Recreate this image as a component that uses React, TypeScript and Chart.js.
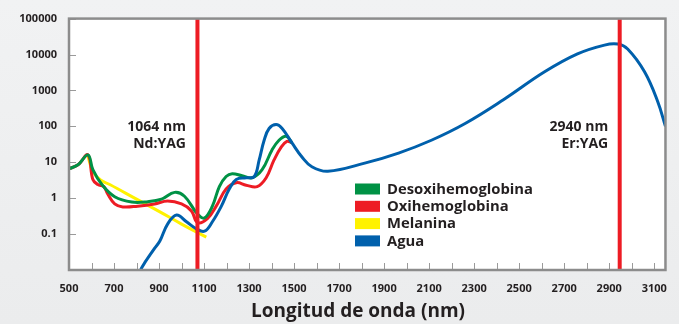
import { useEffect, useRef } from "react";
import { Chart, registerables } from "chart.js";

Chart.register(...registerables);

// ---- Data ----
const xTickValues = [500, 700, 900, 1100, 1300, 1500, 1700, 1900, 2100, 2300, 2500, 2700, 2900, 3100];
const xMinorTicks = [600, 700, 800, 900, 1000, 1100, 1200, 1300, 1400, 1500, 1600, 1700, 1800, 1900, 2000, 2100, 2200, 2300, 2400, 2500, 2600, 2700, 2800, 2900, 3000, 3100];
const yTickValues = [0.1, 1, 10, 100, 1000, 10000, 100000];
const yTickLabels = ["0.1", "1", "10", "100", "1000", "10000", "100000"];

const laserWavelengths = [1064, 2940];
const laserLabels = [["1064 nm", "Nd:YAG"], ["2940 nm", "Er:YAG"]];

const seriesNames = ["Desoxihemoglobina", "Oxihemoglobina", "Melanina", "Agua"];
const seriesColors = ["#009245", "#ed1c24", "#fff200", "#0060ac"];

const deoxyNm = [500, 540, 584, 606, 646, 703, 779, 850, 911, 969, 1013, 1071, 1101, 1137, 1168, 1198, 1225, 1269, 1313, 1358, 1402, 1433, 1465, 1490];
const deoxyVal = [6.6, 8.5, 16, 6.2, 2.4, 1.1, 0.78, 0.8, 0.94, 1.45, 1.13, 0.36, 0.28, 0.6, 2.1, 4, 4.8, 4.2, 3.7, 6.2, 22, 41, 53, 35];

const oxyNm = [500, 540, 584, 606, 628, 655, 672, 703, 739, 805, 880, 938, 1000, 1044, 1071, 1115, 1154, 1198, 1243, 1287, 1336, 1376, 1411, 1442, 1468, 1490];
const oxyVal = [6.6, 8.5, 16, 3.3, 2.4, 2.1, 1.3, 0.69, 0.57, 0.6, 0.69, 0.83, 0.69, 0.44, 0.21, 0.27, 0.6, 1.8, 2.7, 2.3, 2.1, 3.7, 11.6, 26, 38, 35];

const melaninNm = [584, 606, 640, 681, 800, 900, 1000, 1110];
const melaninVal = [15, 5.5, 3.2, 2.4, 0.94, 0.43, 0.19, 0.082];

const waterNm = [800, 823, 880, 903, 938, 978, 1022, 1066, 1102, 1137, 1177, 1212, 1243, 1287, 1323, 1345, 1367, 1389, 1420, 1447, 1490, 1535, 1579, 1650, 1818, 1964, 2110, 2260, 2430, 2613, 2759, 2879, 2938, 2982, 3057, 3115, 3150];
const waterVal = [0.005, 0.0115, 0.04, 0.063, 0.19, 0.34, 0.22, 0.14, 0.12, 0.22, 0.6, 1.8, 3.3, 3.7, 4, 11.6, 41, 87, 112, 87, 35, 14, 7.5, 5.6, 9.6, 18, 41, 120, 550, 3300, 10400, 18300, 19500, 14200, 3300, 500, 100];

const xAxisTitle = "Longitud de onda (nm)";

const toPoints = (xs: number[], ys: number[]) => xs.map((x, i) => ({ x, y: ys[i] }));

const TEXT = "#231f20";
const FONT = "'Open Sans', 'DejaVu Sans', sans-serif";

const decorPlugin = {
  id: "decor",
  beforeDraw(chart: any) {
    const { ctx, chartArea: a, width, height } = chart;
    ctx.save();
    const g = ctx.createLinearGradient(0, 0, 0, height);
    g.addColorStop(0, "#f1f2f3");
    g.addColorStop(1, "#ebeced");
    ctx.fillStyle = g;
    ctx.fillRect(0, 0, width, height);
    ctx.fillStyle = "#ffffff";
    ctx.fillRect(a.left, a.top, a.right - a.left, a.bottom - a.top);
    ctx.restore();
  },
  afterDatasetsDraw(chart: any) {
    const { ctx, chartArea: a, scales } = chart;
    const xs = scales.x;
    const ys = scales.y;
    ctx.save();
    // inner tick marks
    ctx.strokeStyle = "#9a9a9a";
    ctx.lineWidth = 1;
    ctx.beginPath();
    yTickValues.forEach((v) => {
      const y = Math.round(ys.getPixelForValue(v)) + 0.5;
      ctx.moveTo(a.left, y);
      ctx.lineTo(a.left + 7, y);
    });
    xMinorTicks.forEach((v) => {
      const x = Math.round(xs.getPixelForValue(v)) + 0.5;
      ctx.moveTo(x, a.bottom);
      ctx.lineTo(x, a.bottom - 7);
    });
    ctx.stroke();
    // laser lines
    ctx.strokeStyle = "#ed1c24";
    ctx.lineWidth = 4;
    laserWavelengths.forEach((w) => {
      const x = xs.getPixelForValue(w) + 1.5;
      ctx.beginPath();
      ctx.moveTo(x, a.top);
      ctx.lineTo(x, a.bottom);
      ctx.stroke();
    });
    // plot border
    ctx.strokeStyle = "#8c8c8c";
    ctx.lineWidth = 2.5;
    ctx.strokeRect(a.left, a.top, a.right - a.left, a.bottom - a.top);
    // laser annotations
    ctx.fillStyle = TEXT;
    ctx.font = `bold 14px ${FONT}`;
    ctx.textAlign = "right";
    ctx.textBaseline = "middle";
    laserWavelengths.forEach((w, i) => {
      const x = xs.getPixelForValue(w) - 10;
      ctx.fillText(laserLabels[i][0], x, a.top + 108);
      ctx.fillText(laserLabels[i][1], x, a.top + 125);
    });
    // legend
    ctx.textAlign = "left";
    ctx.font = `bold 14.8px ${FONT}`;
    seriesNames.forEach((name, i) => {
      const cy = 189 + i * 17.3;
      ctx.fillStyle = seriesColors[i];
      ctx.fillRect(355, cy - 5.5, 25, 11);
      ctx.fillStyle = TEXT;
      ctx.fillText(name, 387, cy + 0.5);
    });
    // axis title
    ctx.textAlign = "center";
    ctx.font = `bold 19px ${FONT}`;
    ctx.fillText(xAxisTitle, 358, 312);
    ctx.restore();
  },
};

export default function App() {
  const canvasRef = useRef<HTMLCanvasElement | null>(null);

  useEffect(() => {
    document.body.style.margin = "0";
    const canvas = canvasRef.current;
    if (!canvas) return;
    const mk = (i: number, xs: number[], vs: number[], order: number) => ({
      label: seriesNames[i],
      data: toPoints(xs, vs),
      borderColor: seriesColors[i],
      backgroundColor: seriesColors[i],
      borderWidth: 3,
      pointRadius: 0,
      fill: false,
      tension: 0.4,
      order,
    });
    const chart = new Chart(canvas, {
      type: "line",
      data: {
        datasets: [
          mk(0, deoxyNm, deoxyVal, 1),
          mk(1, oxyNm, oxyVal, 2),
          mk(2, melaninNm, melaninVal, 3),
          mk(3, waterNm, waterVal, 0),
        ],
      },
      options: {
        responsive: false,
        animation: false,
        devicePixelRatio: 1,
        layout: { padding: { left: 0, top: 14, right: 11, bottom: 0 } },
        plugins: { legend: { display: false }, tooltip: { enabled: false } },
        scales: {
          x: {
            type: "linear",
            min: 500,
            max: 3150,
            grid: { display: false, drawTicks: false },
            border: { display: false },
            afterFit: (s: any) => {
              s.height = 54;
            },
            afterBuildTicks: (s: any) => {
              s.ticks = xTickValues.map((v) => ({ value: v }));
            },
            ticks: {
              autoSkip: false,
              maxRotation: 0,
              padding: 12,
              color: TEXT,
              font: { family: FONT, weight: "bold", size: 11 },
              callback: (v: any) => String(v),
            },
          },
          y: {
            type: "logarithmic",
            min: 0.01,
            max: 100000,
            grid: { display: false, drawTicks: false },
            border: { display: false },
            afterFit: (s: any) => {
              s.width = 69;
            },
            afterBuildTicks: (s: any) => {
              s.ticks = yTickValues.map((v) => ({ value: v }));
            },
            ticks: {
              autoSkip: false,
              padding: 12,
              color: TEXT,
              font: { family: FONT, weight: "bold", size: 11 },
              callback: (v: any) => {
                const i = yTickValues.indexOf(Number(v));
                return i >= 0 ? yTickLabels[i] : "";
              },
            },
          },
        },
      } as any,
      plugins: [decorPlugin],
    });
    return () => chart.destroy();
  }, []);

  return (
    <div style={{ width: 679, height: 324 }}>
      <canvas ref={canvasRef} width={679} height={324} style={{ display: "block", width: 679, height: 324 }} />
    </div>
  );
}
